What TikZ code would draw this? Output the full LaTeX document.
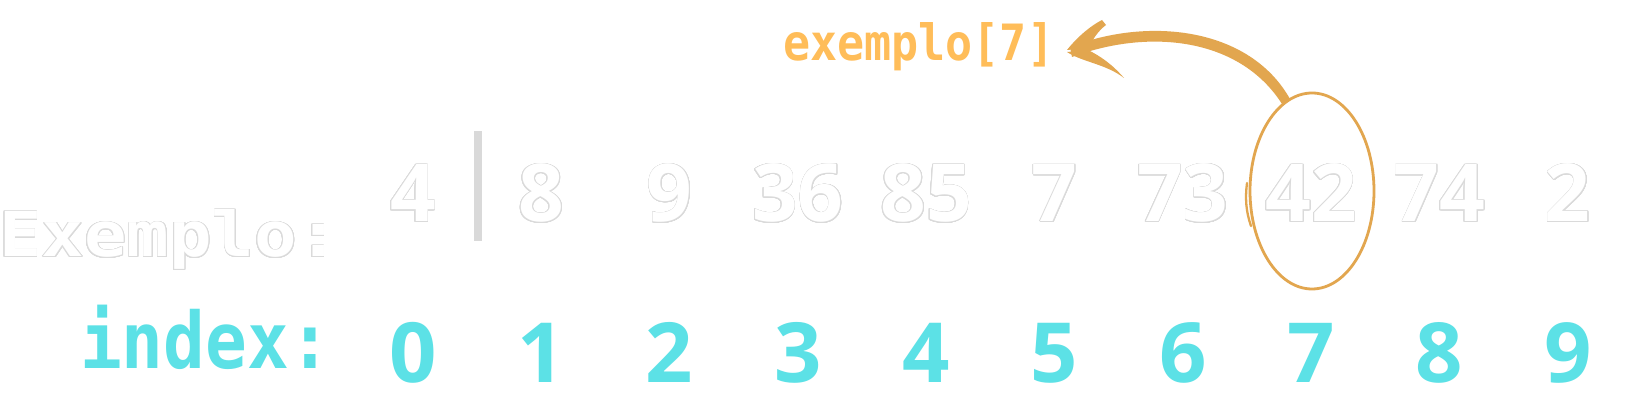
\documentclass[tikz,border=0pt]{standalone}
\usepackage{fontspec}
\usepackage{contour}
\usetikzlibrary{shapes.geometric}
\newfontfamily\digitfont{Open Sans}[Numbers=Lining]
\newfontfamily\codefont{DejaVu Sans Mono}
\definecolor{cyanidx}{HTML}{5CE1E6}
\definecolor{orlabel}{HTML}{FFBD59}
\definecolor{orarrow}{HTML}{E2A64F}
\definecolor{outl}{HTML}{DADADA}
\definecolor{barc}{HTML}{D9D9D9}
\contourlength{0.7pt}
\contournumber{24}
\begin{document}
\begin{tikzpicture}[x=1pt,y=-1pt,
  numtxt/.style={anchor=base, inner sep=0pt, text=white, font=\digitfont\bfseries\fontsize{80}{80}\selectfont},
  idxtxt/.style={anchor=base, inner sep=0pt, text=cyanidx, font=\digitfont\bfseries\fontsize{83}{83}\selectfont},
  codetxt/.style={anchor=base west, inner sep=0pt},
  handline/.style={draw=orarrow, line width=2.8pt}]
\useasboundingbox (0,0) rectangle (1638,411);
\fill[white] (0,0) rectangle (1638,411);

% row labels
\node[codetxt, text=white, font=\codefont\bfseries\fontsize{62}{62}\selectfont] (exlabel) at (-1,257)
  {\scalebox{1.14}[1]{\contour{outl}{Exemplo:}}};
\node[codetxt, text=cyanidx, font=\codefont\bfseries\fontsize{78}{78}\selectfont] (idxlabel) at (80,369)
  {\scalebox{0.89}[1]{index:}};

% values and indices
\foreach \v [count=\i from 0] in {4,8,9,36,85,7,73,42,74,2} {
  \node[numtxt] (v\i) at ({413+128.3*\i},222) {\contour{outl}{\v}};
  \node[idxtxt] (i\i) at ({413+128.3*\i},383) {\i};
}

% separator bar
\fill[barc] (474,131) rectangle (482,241);

% label exemplo[7]
\node[codetxt, text=orlabel, font=\codefont\bfseries\fontsize{50}{50}\selectfont] (sel) at (783,61)
  {\scalebox{0.9}[1]{exemplo[7]}};

% hand drawn oval around 42
\node[handline, ellipse, minimum width=124pt, minimum height=196pt, inner sep=0pt] (oval) at (1312,191) {};
\draw[orarrow, line width=2.3pt, line cap=round] (1247,183) .. controls (1245,198) and (1246,212) .. (1251,226);

% arrow from oval to label
\coordinate (tip) at (1067,51);
\coordinate (tail) at (1286,102);
\fill[orarrow] (tip) ++(3,-4) .. controls (1150,16) and (1250,28) .. (1290,99)
  -- (1282,104) .. controls (1240,38) and (1150,28) .. ([shift={(5,6)}]tip) -- cycle;
\fill[orarrow] (tip) ++(0,-1) .. controls (1078,36) and (1092,25) .. (1102,20)
  -- (1106,25) .. controls (1098,31) and (1092,40) .. (1089,48) -- cycle;
\fill[orarrow] ([shift={(0,1)}]tip) .. controls (1082,62) and (1106,64) .. (1124,78)
  .. controls (1112,64) and (1100,56) .. (1088,50) -- cycle;
\end{tikzpicture}
\end{document}
